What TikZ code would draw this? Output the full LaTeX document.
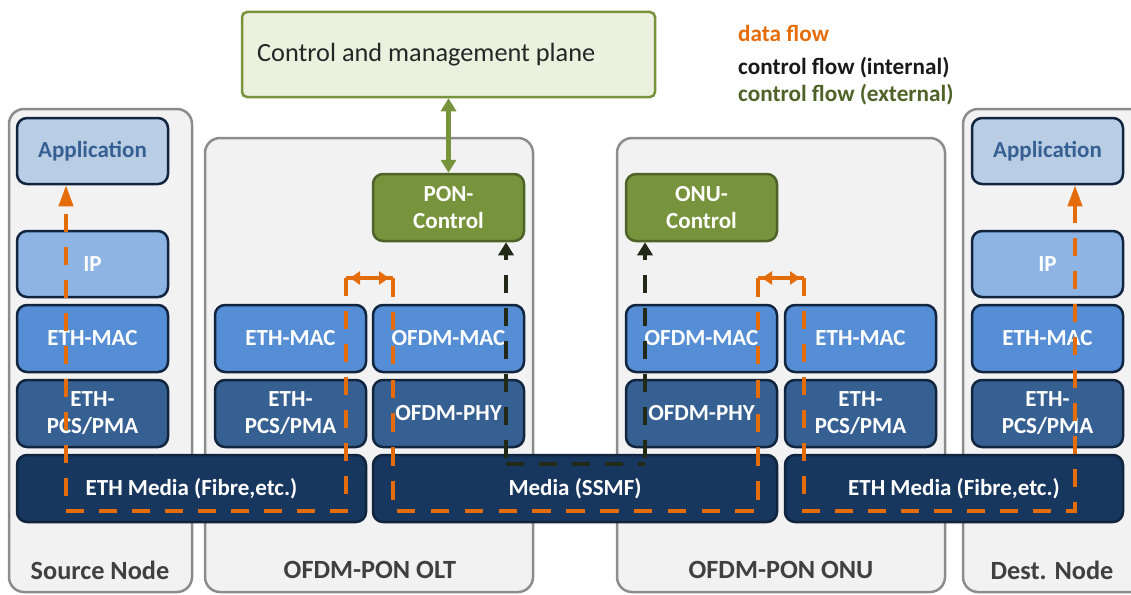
\documentclass[tikz,border=0pt]{standalone}
\usepackage{fontspec}
\setmainfont{Carlito}
\usetikzlibrary{arrows.meta}

\definecolor{cfill}{HTML}{F2F2F2}
\definecolor{cgray}{HTML}{8C8C8C}
\definecolor{navyedge}{HTML}{12253E}
\definecolor{appfill}{HTML}{B9CDE5}
\definecolor{apptext}{HTML}{376092}
\definecolor{ipfill}{HTML}{8EB4E3}
\definecolor{macfill}{HTML}{558ED5}
\definecolor{phyfill}{HTML}{376092}
\definecolor{medfill}{HTML}{17375E}
\definecolor{ctlfill}{HTML}{77933C}
\definecolor{ctledge}{HTML}{4F6228}
\definecolor{cmpfill}{HTML}{EBF1DE}
\definecolor{dorange}{HTML}{E46C0A}
\definecolor{kdark}{HTML}{222A17}
\definecolor{lblgray}{HTML}{404040}

\newcommand{\boxfont}{\fontsize{23}{27}\selectfont\bfseries}
\newcommand{\lblfont}{\fontsize{26.3}{28}\selectfont\bfseries}

\begin{document}
\begin{tikzpicture}[x=1pt,y=-1pt,
  container/.style={draw=cgray, fill=cfill, line width=2.5pt, rounded corners=15pt, inner sep=0pt},
  layer/.style={draw=navyedge, line width=2.5pt, rounded corners=10pt, inner sep=0pt,
                text=white, font=\boxfont, align=center},
  colw/.style={minimum width=151pt},
  rowh/.style={minimum height=67pt},
  ctlbox/.style={layer, draw=ctledge, fill=ctlfill, colw, rowh},
  lbl/.style={text=lblgray, font=\lblfont, inner sep=0pt},
  legend/.style={anchor=west, font=\fontsize{23.2}{25}\selectfont\bfseries, inner sep=0pt},
  dflow/.style={draw=dorange, line width=4pt, dash pattern=on 18pt off 15pt},
  dtip/.style={-{Triangle[length=21pt,width=14pt]}},
  btip/.style={{Triangle[length=10pt,width=13pt]}-{Triangle[length=10pt,width=13pt]}},
  kflow/.style={draw=kdark, line width=4.5pt, dash pattern=on 18pt off 15pt},
  ktip/.style={-{Triangle[length=13pt,width=15pt]}},
  gflow/.style={draw=ctlfill, line width=4.5pt,
                {Triangle[length=13pt,width=15pt]}-{Triangle[length=13pt,width=15pt]}}
]
\useasboundingbox (0,0) rectangle (1131,594);

% ---- node enclosures ----
\node[container, minimum width=183pt, minimum height=483pt] (srcN) at (100.5,350.5) {};
\node[container, minimum width=328pt, minimum height=454pt] (oltN) at (369,365) {};
\node[container, minimum width=328pt, minimum height=454pt] (onuN) at (781,365) {};
\node[container, minimum width=183pt, minimum height=483pt] (dstN) at (1054.5,350.5) {};

\node[lbl] (srcL) at (100,570) {Source Node};
\node[lbl] (oltL) at (370,570) {OFDM-PON OLT};
\node[lbl] (onuL) at (781,570) {OFDM-PON ONU};
\node[lbl] (dstL) at (1052,570) {Dest. Node};

% ---- control and management plane ----
\node[draw=ctlfill, fill=cmpfill, line width=2.5pt, rounded corners=5pt,
      minimum width=413pt, minimum height=85pt, inner sep=0pt] (cmp) at (448.5,54.5) {};
\node[anchor=west, inner sep=0pt, text=black!85, font=\fontsize{26.3}{28}\selectfont]
      (cmpT) at (257,55) {Control and management plane};

% ---- legend ----
\node[legend, text=dorange] (lg1) at (738,33) {data flow};
\node[legend, text=black!90] (lg2) at (738,68) {control flow (internal)};
\node[legend, text=ctledge] (lg3) at (738,95) {control flow (external)};

% ---- source node stack ----
\node[layer, colw, minimum height=66pt, fill=appfill, text=apptext] (sApp) at (92.5,151) {Application};
\node[layer, colw, minimum height=66pt, fill=ipfill] (sIP) at (92.5,264) {IP};
\node[layer, colw, rowh, fill=macfill] (sMAC) at (92.5,338.5) {ETH-MAC};
\node[layer, colw, rowh, fill=phyfill] (sPCS) at (92.5,413.5) {ETH-\\PCS/PMA};
\node[layer, minimum width=349pt, rowh, fill=medfill] (lMed) at (191.5,488.5) {ETH Media (Fibre,etc.)};

% ---- OLT stack ----
\node[layer, colw, rowh, fill=macfill] (oEMAC) at (290.5,338.5) {ETH-MAC};
\node[layer, colw, rowh, fill=phyfill] (oEPCS) at (290.5,413.5) {ETH-\\PCS/PMA};
\node[ctlbox] (ponC) at (448.5,207.5) {PON-\\Control};
\node[layer, colw, rowh, fill=macfill] (oOMAC) at (448.5,338.5) {OFDM-MAC};
\node[layer, colw, rowh, fill=phyfill] (oOPHY) at (448.5,413.5) {OFDM-PHY};

% ---- shared fibre ----
\node[layer, minimum width=404pt, rowh, fill=medfill] (ssmf) at (575,488.5) {Media (SSMF)};

% ---- ONU stack ----
\node[ctlbox] (onuC) at (701.5,207.5) {ONU-\\Control};
\node[layer, colw, rowh, fill=macfill] (uOMAC) at (701.5,338.5) {OFDM-MAC};
\node[layer, colw, rowh, fill=phyfill] (uOPHY) at (701.5,413.5) {OFDM-PHY};
\node[layer, colw, rowh, fill=macfill] (uEMAC) at (860.5,338.5) {ETH-MAC};
\node[layer, colw, rowh, fill=phyfill] (uEPCS) at (860.5,413.5) {ETH-\\PCS/PMA};
\node[layer, minimum width=338pt, rowh, fill=medfill] (rMed) at (954,488.5) {ETH Media (Fibre,etc.)};

% ---- destination node stack ----
\node[layer, colw, minimum height=66pt, fill=appfill, text=apptext] (dApp) at (1047.5,151) {Application};
\node[layer, colw, minimum height=66pt, fill=ipfill] (dIP) at (1047.5,264) {IP};
\node[layer, colw, rowh, fill=macfill] (dMAC) at (1047.5,338.5) {ETH-MAC};
\node[layer, colw, rowh, fill=phyfill] (dPCS) at (1047.5,413.5) {ETH-\\PCS/PMA};

% ---- external control flow ----
\draw[gflow] (cmp.south) -- (ponC.north);

% ---- data flow corners ----
\coordinate (oA) at (346,278);
\coordinate (oB) at (393,278);
\coordinate (oC) at (758,278);
\coordinate (oD) at (804,278);
\coordinate (sBot) at (66,511);
\coordinate (dBot) at (1075,511);
\coordinate (mid) at (575,511);

% source side
\draw[dflow, dtip] (oA) -- (oA |- sBot) -- (sBot) -- (sBot |- sApp.south);
% OLT bridging
\draw[draw=dorange, line width=4pt] (oA) -- (oB);
\draw[draw=dorange, line width=3pt, btip] ([xshift=4pt]oA) -- ([xshift=-4pt]oB);
% across the fibre (dashes sized so both ends start on a dash)
\draw[dflow, dash pattern=on 18.5pt off 15.35pt] (oB) -- (oB |- mid) -- (oC |- mid) -- (oC);
% ONU bridging
\draw[draw=dorange, line width=4pt] (oC) -- (oD);
\draw[draw=dorange, line width=3pt, btip] ([xshift=4pt]oC) -- ([xshift=-4pt]oD);
% destination side
\draw[dflow, dtip] (oD) -- (oD |- dBot) -- (dBot) -- (dBot |- dApp.south);

% ---- internal control flow ----
\coordinate (k1) at (506,464);
\coordinate (k2) at (645,464);
\draw[kflow] (k1) -- (k2);
\draw[kflow, ktip] ([yshift=6pt]k1) -- (k1 |- ponC.south);
\draw[kflow, ktip] ([yshift=6pt]k2) -- (k2 |- onuC.south);

\end{tikzpicture}
\end{document}
